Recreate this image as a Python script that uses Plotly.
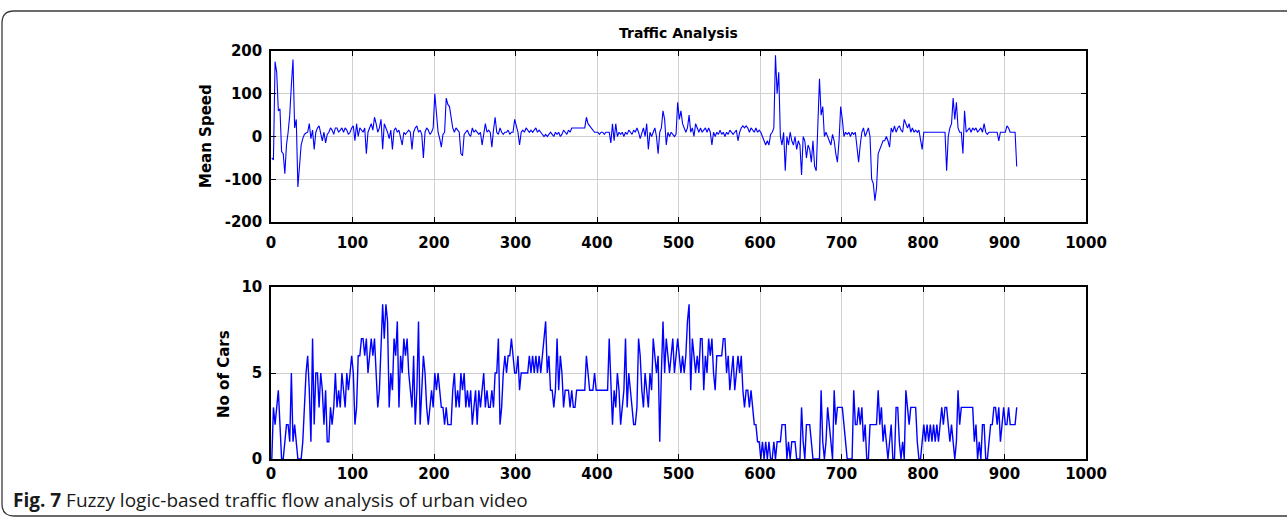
import numpy as np
import plotly.graph_objects as go

W, H = 1287, 521

# ---------------- data (one value every 2 frames) ----------------
frames = np.arange(1, 916, 2)

speed_001_199 = [-50, -55, 175, 150, 60, 65, -35, -40, -87, -20,
                 10, 50, 120, 180, 20, 40, -118, -60, -20, -5,
                 5, 8, 10, 30, -5, 15, -30, 10, 20, 25,
                 5, -10, 10, -15, 5, 10, 20, 15, 5, 20,
                 20, 10, 15, 20, 10, 20, 15, 5, 10, 20,
                 25, -10, 30, 0, 20, 15, 10, 20, -40, 10,
                 20, 30, 15, 45, 30, 10, 20, 40, -30, 30,
                 20, 10, -5, 15, -30, 15, 20, 10, 15, 0,
                 -20, 10, 5, 10, 15, 10, -30, 10, 20, 25,
                 10, 15, 5, -50, 10, 20, 15, 5, 10, 20]
speed_201_399 = [100, 55, 10, -5, -25, 5, 10, 90, 75, 70,
                 40, 20, 10, 20, 15, 10, -40, -45, 5, 10,
                 15, 5, 0, 20, 10, 15, 10, 5, 10, -20,
                 5, 30, 10, 15, 10, -25, 15, 45, 10, 5,
                 20, 10, 5, 10, 10, 15, 5, 10, 10, 40,
                 25, 10, -20, 10, 15, 10, 20, 15, 10, 15,
                 10, 15, 20, 10, 15, 10, 5, 0, 5, 0,
                 5, 10, 5, 0, 10, 5, 10, 0, 5, 15,
                 10, 5, 15, 10, 20, 20, 20, 20, 20, 20,
                 20, 20, 20, 45, 30, 25, 20, 15, 10, 10]
speed_401_599 = [10, 5, 10, 10, 5, 10, 10, 10, -15, 30,
                 -10, 30, 0, 10, 5, 10, 0, 10, 5, 15,
                 10, 5, 15, 10, 20, 10, -5, 10, 20, 0,
                 30, -30, 10, 0, 10, 20, 0, -40, 10, 20,
                 60, 40, -20, 10, 0, 10, 5, 0, 5, 80,
                 40, 60, 30, 20, 10, 20, 50, 10, 20, 0,
                 30, 20, 10, 20, 10, 15, 20, 10, 20, 10,
                 -20, 10, 0, 10, 5, 15, 5, 10, 0, 10,
                 5, 15, 10, 5, 10, 15, -10, 10, 20, 25,
                 20, 25, 20, 10, 20, 15, 10, 20, 10, 15]
speed_601_799 = [10, 0, -10, -20, -10, -20, 5, 10, 20, 190,
                 100, 150, 0, -20, 10, -80, 0, -20, 10, -10,
                 -20, 0, -30, -10, -20, -90, 0, -10, -50, -20,
                 -30, -60, -10, -70, -80, 10, 135, 50, 70, 0,
                 10, 0, -10, -20, 5, -10, -40, -60, -10, 70,
                 40, 0, 10, 5, 10, 0, 10, 5, 10, -30,
                 -60, -20, 10, 20, 0, 10, 20, 0, -100, -110,
                 -150, -120, -40, -30, -20, -10, -10, 0, -10, -25,
                 20, 10, 25, 10, 20, 25, 15, 10, 40, 30,
                 20, 30, 10, 20, 10, 15, 10, 15, -10, -30]
speed_801_915 = [10, 10, 10, 10, 10, 10, 10, 10, 10, 10,
                 10, 10, 10, 10, -80, 0, 20, 30, 90, 40,
                 80, 20, 10, 10, -40, 60, 10, 15, 20, 10,
                 20, 15, 20, 10, 15, 20, 10, 30, 10, 5,
                 10, 10, 10, 10, 10, 10, -10, 10, 10, 10,
                 10, 25, 20, 10, 10, 10, 10, -70]

cars_001_199 = [0, 3, 2, 3, 4, 2, 0, 0, 1, 2,
                2, 1, 5, 1, 2, 1, 0, 0, 0, 1,
                3, 5, 6, 4, 1, 7, 2, 5, 5, 3,
                5, 4, 2, 4, 1, 1, 3, 2, 3, 5,
                3, 4, 3, 5, 4, 3, 5, 4, 5, 6,
                5, 2, 3, 6, 6, 7, 7, 6, 7, 5,
                6, 7, 6, 7, 5, 3, 4, 7, 9, 7,
                9, 8, 3, 5, 4, 7, 6, 8, 3, 6,
                5, 7, 6, 7, 5, 4, 3, 6, 2, 4,
                8, 2, 4, 6, 5, 3, 2, 3, 4, 3]
cars_201_399 = [5, 4, 5, 4, 3, 3, 2, 3, 2, 2,
                2, 4, 5, 3, 4, 3, 5, 4, 5, 3,
                4, 3, 4, 2, 3, 4, 2, 4, 3, 4,
                5, 3, 4, 3, 3, 4, 3, 5, 5, 7,
                2, 3, 5, 6, 5, 6, 6, 7, 6, 5,
                5, 6, 4, 5, 5, 5, 5, 5, 6, 5,
                6, 5, 6, 5, 6, 5, 6, 7, 8, 5,
                6, 4, 4, 3, 4, 7, 4, 6, 5, 3,
                4, 4, 4, 3, 4, 3, 3, 4, 4, 4,
                4, 4, 4, 6, 5, 4, 4, 4, 5, 4]
cars_401_599 = [4, 4, 4, 4, 4, 4, 4, 7, 4, 2,
                4, 3, 5, 4, 2, 3, 4, 7, 3, 5,
                4, 3, 2, 2, 3, 7, 6, 4, 3, 5,
                4, 3, 5, 4, 7, 6, 5, 6, 1, 5,
                8, 5, 7, 6, 5, 6, 7, 5, 6, 7,
                6, 5, 6, 5, 6, 8, 9, 4, 7, 6,
                5, 6, 5, 7, 7, 4, 6, 5, 7, 6,
                7, 5, 4, 6, 6, 6, 6, 7, 7, 5,
                6, 4, 5, 6, 4, 5, 6, 5, 6, 4,
                3, 4, 4, 3, 4, 3, 2, 2, 1, 1]
cars_601_799 = [0, 1, 0, 1, 0, 1, 0, 0, 1, 0,
                1, 1, 1, 2, 2, 2, 0, 1, 0, 1,
                1, 1, 0, 0, 0, 3, 1, 0, 2, 2,
                2, 1, 0, 0, 0, 0, 0, 4, 1, 0,
                1, 3, 2, 1, 0, 4, 2, 3, 3, 3,
                3, 2, 1, 0, 0, 0, 0, 4, 2, 2,
                3, 2, 3, 1, 2, 0, 0, 2, 2, 2,
                2, 2, 4, 2, 3, 1, 2, 1, 0, 1,
                2, 0, 0, 3, 3, 1, 0, 1, 0, 4,
                3, 2, 3, 3, 3, 3, 1, 0, 0, 1]
cars_801_915 = [2, 1, 2, 1, 2, 1, 2, 1, 2, 1,
                2, 3, 2, 3, 3, 2, 1, 2, 1, 0,
                1, 4, 2, 3, 3, 3, 3, 3, 3, 3,
                3, 1, 2, 0, 1, 0, 2, 2, 0, 0,
                1, 2, 2, 3, 3, 2, 3, 1, 2, 3,
                2, 2, 3, 2, 2, 2, 2, 3]

speed = speed_001_199 + speed_201_399 + speed_401_599 + speed_601_799 + speed_801_915
cars = cars_001_199 + cars_201_399 + cars_401_599 + cars_601_799 + cars_801_915

x_ticks = [0, 100, 200, 300, 400, 500, 600, 700, 800, 900, 1000]
speed_ticks = [-200, -100, 0, 100, 200]
speed_tick_text = ["-200", "-100", "0", "100", "200"]
cars_ticks = [0, 5, 10]

title_text = "Traffic Analysis"
speed_label = "Mean Speed"
cars_label = "No of Cars"
caption = "<b>Fig. 7</b> Fuzzy logic-based traffic flow analysis of urban video"

# ---------------- figure ----------------
def px_x(p):
    return p / W

def px_y(p):
    return 1 - p / H

BLUE = "#0000FF"
tick_font = dict(family="DejaVu Sans", size=15, color="black", weight="bold")

fig = go.Figure()
fig.add_trace(go.Scatter(x=frames, y=speed, mode="lines",
                         line=dict(color=BLUE, width=1.1), xaxis="x", yaxis="y",
                         showlegend=False, hoverinfo="x+y"))
fig.add_trace(go.Scatter(x=frames, y=cars, mode="lines",
                         line=dict(color=BLUE, width=1.4), xaxis="x2", yaxis="y2",
                         showlegend=False, hoverinfo="x+y"))

xdom = [px_x(271), px_x(1086)]
common_x = dict(range=[0, 1000], tickvals=x_ticks, showgrid=True, gridcolor="#d0d0d0",
                gridwidth=1, showline=True, linecolor="black", linewidth=1.5,
                mirror="ticks", ticks="inside", ticklen=5, tickcolor="black",
                zeroline=False, tickfont=tick_font, domain=xdom, automargin=False)
common_y = dict(showgrid=True, gridcolor="#d0d0d0", gridwidth=1, showline=True,
                linecolor="black", linewidth=1.5, mirror="ticks", ticks="inside",
                ticklen=5, tickcolor="black", zeroline=False, tickfont=tick_font,
                automargin=False, ticklabelstandoff=4)

fig.update_layout(
    width=W, height=H,
    margin=dict(l=0, r=0, t=0, b=0),
    paper_bgcolor="white", plot_bgcolor="white",
    xaxis=dict(common_x, anchor="y", ticklabelstandoff=6),
    yaxis=dict(common_y, range=[-200, 200], tickvals=speed_ticks, ticktext=speed_tick_text,
               domain=[px_y(222), px_y(51)], anchor="x"),
    xaxis2=dict(common_x, anchor="y2", ticklabelstandoff=0),
    yaxis2=dict(common_y, range=[0, 10], tickvals=cars_ticks,
                domain=[px_y(459), px_y(287)], anchor="x2"),
    annotations=[
        dict(text=title_text, x=px_x(678), y=px_y(33), xref="paper", yref="paper",
             showarrow=False, xanchor="center", yanchor="middle",
             font=dict(family="DejaVu Sans", size=14, color="black", weight="bold")),
        dict(text=speed_label, x=px_x(206), y=px_y(136), xref="paper", yref="paper",
             showarrow=False, textangle=-90, xanchor="center", yanchor="middle",
             font=dict(family="DejaVu Sans", size=15, color="black", weight="bold")),
        dict(text=cars_label, x=px_x(224), y=px_y(374), xref="paper", yref="paper",
             showarrow=False, textangle=-90, xanchor="center", yanchor="middle",
             font=dict(family="DejaVu Sans", size=15, color="black", weight="bold")),
        dict(text=caption, x=px_x(11), y=px_y(500), xref="paper", yref="paper",
             showarrow=False, xanchor="left", yanchor="middle",
             font=dict(family="Open Sans", size=19, color="#1a1a1a")),
    ],
)

# rounded frame around the figure
rx, ry = 12 / W, 12 / H
x0, x1 = 2 / W, 1.01
yt, yb = px_y(11), px_y(516)
path = (f"M {x1} {yt} L {x0 + rx} {yt} Q {x0} {yt} {x0} {yt - ry} "
        f"L {x0} {yb + ry} Q {x0} {yb} {x0 + rx} {yb} L {x1} {yb}")
fig.add_shape(type="path", path=path, xref="paper", yref="paper",
              line=dict(color="#3a3a3a", width=1.3))

fig.write_html("out.html", config={"displayModeBar": False},
               post_script="document.body.style.margin='0px';")
